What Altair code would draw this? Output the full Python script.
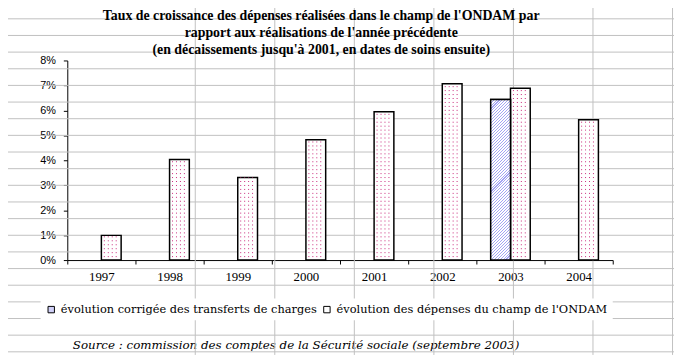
import altair as alt
import pandas as pd

# ---------------- data ----------------
years = ["1997", "1998", "1999", "2000", "2001", "2002", "2003", "2004"]
ondam = [0.99, 4.03, 3.31, 4.82, 5.94, 7.07, 6.89, 5.62]
corrigee_years = ["2003"]
corrigee = [6.44]
y_ticks = [0, 1, 2, 3, 4, 5, 6, 7, 8]
series_names = [
    "évolution corrigée des transferts de charges",
    "évolution des dépenses du champ de l'ONDAM",
]
title_lines = [
    "Taux de croissance des dépenses réalisées dans le champ de l'ONDAM par",
    "rapport aux réalisations de l'année précédente",
    "(en décaissements jusqu'à 2001, en dates de soins ensuite)",
]
source_text = "Source : commission des comptes de la Sécurité sociale (septembre 2003)"
# spreadsheet cells visible behind the transparent chart
sheet_rows = list(range(1, 22))
sheet_cols = list(range(0, 7))

# ---------------- layout / style ----------------
PLOT_W, PLOT_H = 552, 202
PAD = {"left": 60, "top": 51, "right": 62, "bottom": 96}
GRID = "#c0c0c0"
DOT = "#c8287a"
HATCH = "#a4a4f4"
BAR_W = 20.0

rows = [{"year": y, "series": series_names[1], "value": v, "zero": 0} for y, v in zip(years, ondam)]
rows += [{"year": y, "series": series_names[0], "value": v, "zero": 0} for y, v in zip(corrigee_years, corrigee)]
df = pd.DataFrame(rows)

x_axis = alt.Axis(
    orient="bottom",
    title=source_text,
    tickBand="extent",
    labelAngle=0,
    tickSize=4,
    labelFont="Liberation Serif",
    labelFontSize=13,
    labelPadding=7,
    titleFont="DejaVu Serif",
    titleFontStyle="italic",
    titleFontWeight="normal",
    titleFontSize=12,
    titleX=231,
    titleY=89,
    titleBaseline="alphabetic",
    titleAlign="center",
)
x_scale = alt.Scale(domain=years, paddingInner=0, paddingOuter=0)
x_enc = alt.X("year:N", sort=years, scale=x_scale, axis=x_axis)

y_scale = alt.Scale(domain=[0, 8], nice=False)
y_axis = alt.Axis(
    orient="left",
    values=y_ticks,
    labelExpr="datum.value + '%'",
    title=None,
    grid=False,
    tickSize=4,
    labelPadding=8,
    labelFont="Liberation Sans",
    labelFontSize=11,
)
y_enc = alt.Y("value:Q", scale=y_scale, axis=y_axis)

xoff = alt.XOffset(
    "series:N",
    scale=alt.Scale(domain=series_names, paddingInner=0, paddingOuter=0.725),
)

base = alt.Chart(df).encode(x=x_enc, y=y_enc)

bars = base.mark_bar(stroke="black", strokeWidth=1.5).encode(
    xOffset=xoff,
    fill=alt.Fill(
        "series:N",
        scale=alt.Scale(domain=series_names, range=["#d0d0f8", "white"]),
        legend=alt.Legend(
            title=None,
            orient="none",
            legendX=-27,
            legendY=241,
            direction="horizontal",
            columns=2,
            columnPadding=4,
            symbolType="square",
            symbolSize=42,
            symbolStrokeColor="black",
            symbolStrokeWidth=1,
            labelOffset=4,
            labelFont="DejaVu Serif",
            labelFontSize=11.5,
            labelLimit=0,
            fillColor="white",
            padding=5,
        ),
    ),
)

# diagonal hatch for the corrected series (gradient in bounding-box units)
h = corrigee[0] / 8 * PLOT_H
w = BAR_W
m = (w + h) / (w * w + h * h)
period = 3.0 / (w + h)
stops = []
t = 0.0
while t < 1.0:
    a = min(t + 0.35 * period, 1.0)
    b = min(t + period, 1.0)
    stops += [
        alt.GradientStop(color=HATCH, offset=t),
        alt.GradientStop(color=HATCH, offset=a),
        alt.GradientStop(color="white", offset=a),
        alt.GradientStop(color="white", offset=b),
    ]
    t += period
hatch_fill = alt.LinearGradient(gradient="linear", stops=stops, x1=0, y1=0, x2=w * m, y2=h * m)

hatch = (
    base.transform_filter(alt.datum.series == series_names[0])
    .mark_bar(fill=hatch_fill, stroke="black", strokeWidth=1.5)
    .encode(xOffset=xoff)
)

# dotted pattern of the ONDAM series (rules drawn from the baseline upwards)
dot_layers = []
for off in [3, 7, 11, 15]:
    dot_layers.append(
        alt.Chart(df)
        .transform_filter(alt.datum.series == series_names[1])
        .mark_rule(xOffset=off, color=DOT, strokeDash=[1, 3], strokeDashOffset=-3, strokeWidth=1)
        .encode(
            x=x_enc,
            y=alt.Y("zero:Q", scale=y_scale, axis=y_axis),
            y2=alt.Y2("value:Q"),
        )
    )

title_layer = (
    alt.Chart(df)
    .transform_filter(alt.datum.year == years[0])
    .mark_text(
        text=title_lines,
        font="Liberation Serif",
        fontWeight="bold",
        fontSize=14,
        lineHeight=17,
        align="center",
        baseline="alphabetic",
        color="black",
    )
    .encode(x=alt.value(257), y=alt.value(-41))
)

main = alt.layer(bars, hatch, *dot_layers, title_layer)

grid_rows = (
    alt.Chart(pd.DataFrame({"row": sheet_rows}))
    .mark_rule(color=GRID, strokeWidth=1)
    .encode(
        y=alt.Y("row:Q", scale=alt.Scale(domain=[0, 21], range=[-59, 21 * 16.85 - 59]), axis=None),
        x=alt.value(-68),
        x2=alt.value(614),
    )
)
grid_cols = (
    alt.Chart(pd.DataFrame({"col": sheet_cols}))
    .mark_rule(color=GRID, strokeWidth=1)
    .encode(
        x=alt.X("col:Q", scale=alt.Scale(domain=[0, 6], range=[129.5, 612.5]), axis=None),
        y=alt.value(-59),
        y2=alt.value(298),
    )
)

chart = (
    alt.layer(grid_rows, grid_cols, main)
    .resolve_scale(x="independent", y="independent")
    .properties(
        width=PLOT_W,
        height=PLOT_H,
        padding=PAD,
        autosize="none",
        background="white",
    )
    .configure_view(stroke=None)
    .configure_axis(domainColor="black", tickColor="black", labelColor="black", titleColor="black",
                    domainWidth=1, tickWidth=1)
    .configure_legend(labelColor="black")
)

chart.save("out.html", embed_options={"renderer": "svg", "actions": False})
